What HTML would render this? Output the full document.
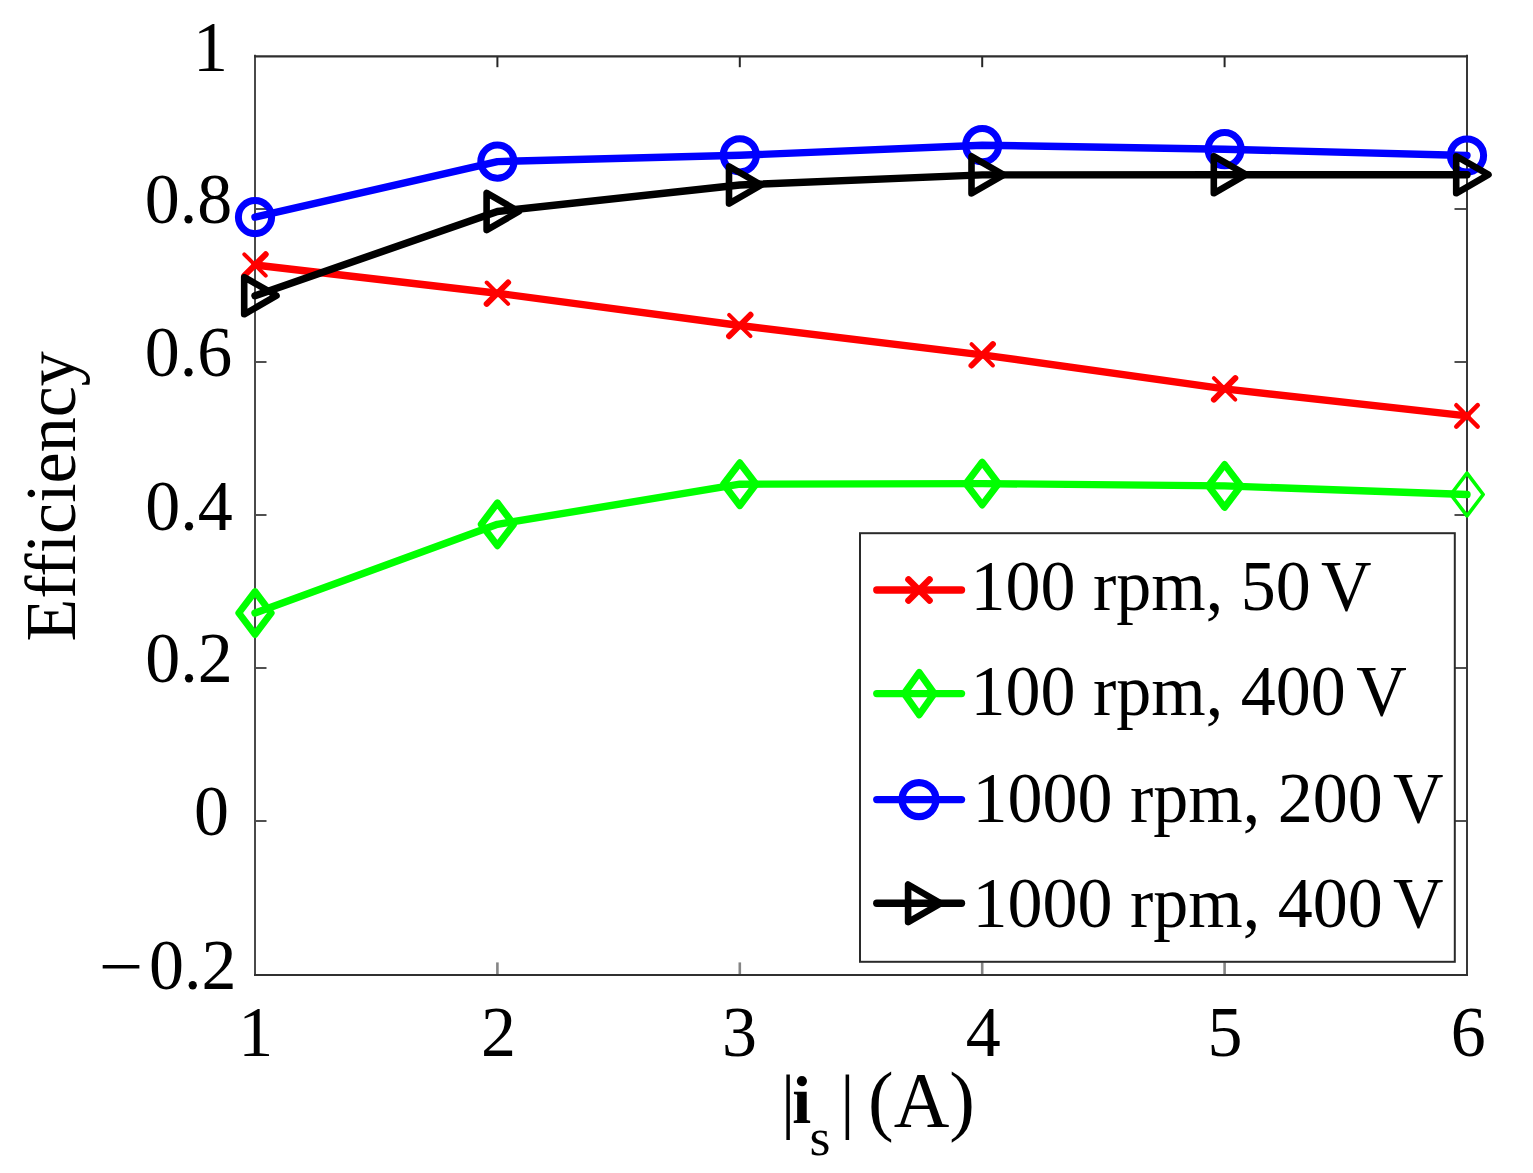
<!DOCTYPE html>
<html><head><meta charset="utf-8"><title>Efficiency vs |i_s|</title>
<style>
html,body{margin:0;padding:0;background:#fff;overflow:hidden;}
svg{display:block;}
text{font-family:"Liberation Serif","Times New Roman",serif;font-size:70px;fill:#000;}
</style></head><body>
<svg width="1533" height="1173" viewBox="0 0 1533 1173">
<rect width="1533" height="1173" fill="#fff"/>
<g stroke="#505050" stroke-width="1.8" fill="none"><path d="M255 821.0H266.5M1467 821.0H1454.5"/><path d="M255 668.0H266.5M1467 668.0H1454.5"/><path d="M255 515.0H266.5M1467 515.0H1454.5"/><path d="M255 362.0H266.5M1467 362.0H1454.5"/><path d="M255 209.0H266.5M1467 209.0H1454.5"/></g>
<g stroke="#858585" stroke-width="2.6" fill="none"><path d="M497.4 975V962.4"/><path d="M739.8 975V962.4"/><path d="M982.2 975V962.4"/><path d="M1224.6 975V962.4"/></g>
<g stroke="#262626" stroke-width="2" fill="none"><path d="M497.4 56V67.2"/><path d="M739.8 56V67.2"/><path d="M982.2 56V67.2"/><path d="M1224.6 56V67.2"/></g>
<path d="M255 54.8V976" stroke="#4a4a4a" stroke-width="2" fill="none"/><path d="M1467 54.8V976" stroke="#383838" stroke-width="2" fill="none"/><path d="M254 56.45H1468" stroke="#2e2e2e" stroke-width="2.3" fill="none"/><path d="M254 975H1468" stroke="#303030" stroke-width="2" fill="none"/>
<polyline points="255.0,265.0 497.4,293.2 739.8,325.5 982.2,354.8 1224.6,388.9 1467.0,415.9" fill="none" stroke="#f00" stroke-width="7.4" stroke-linecap="round" stroke-linejoin="round"/>
<path d="M244.3 275.7L265.7 254.3" stroke="#f00" stroke-width="6.0" stroke-linecap="round"/><path d="M244.3 254.3L265.7 275.7" stroke="#f00" stroke-width="4.0" stroke-linecap="round"/>
<path d="M486.7 303.9L508.1 282.5" stroke="#f00" stroke-width="6.0" stroke-linecap="round"/><path d="M486.7 282.5L508.1 303.9" stroke="#f00" stroke-width="4.0" stroke-linecap="round"/>
<path d="M729.1 336.2L750.5 314.8" stroke="#f00" stroke-width="6.0" stroke-linecap="round"/><path d="M729.1 314.8L750.5 336.2" stroke="#f00" stroke-width="4.0" stroke-linecap="round"/>
<path d="M971.5 365.5L992.9 344.1" stroke="#f00" stroke-width="6.0" stroke-linecap="round"/><path d="M971.5 344.1L992.9 365.5" stroke="#f00" stroke-width="4.0" stroke-linecap="round"/>
<path d="M1213.9 399.6L1235.3 378.2" stroke="#f00" stroke-width="6.0" stroke-linecap="round"/><path d="M1213.9 378.2L1235.3 399.6" stroke="#f00" stroke-width="4.0" stroke-linecap="round"/>
<path d="M1456.3 426.6L1477.7 405.2" stroke="#f00" stroke-width="4.6" stroke-linecap="round"/><path d="M1456.3 405.2L1477.7 426.6" stroke="#f00" stroke-width="4.4" stroke-linecap="round"/>
<polyline points="255.0,613.0 497.4,524.3 739.8,484.2 982.2,483.6 1224.6,485.9 1467.0,494.5" fill="none" stroke="#0f0" stroke-width="7.4" stroke-linecap="round" stroke-linejoin="round"/>
<path d="M255.0 591.6L271.2 613.0L255.0 634.4L238.8 613.0Z" fill="none" stroke="#0f0" stroke-width="7.0" stroke-linejoin="round"/>
<path d="M497.4 502.9L513.6 524.3L497.4 545.7L481.2 524.3Z" fill="none" stroke="#0f0" stroke-width="7.0" stroke-linejoin="round"/>
<path d="M739.8 462.8L756.0 484.2L739.8 505.6L723.6 484.2Z" fill="none" stroke="#0f0" stroke-width="7.0" stroke-linejoin="round"/>
<path d="M982.2 462.2L998.4 483.6L982.2 505.0L966.0 483.6Z" fill="none" stroke="#0f0" stroke-width="7.0" stroke-linejoin="round"/>
<path d="M1224.6 464.5L1240.8 485.9L1224.6 507.3L1208.4 485.9Z" fill="none" stroke="#0f0" stroke-width="7.0" stroke-linejoin="round"/>
<path d="M1467.0 473.1L1483.2 494.5L1467.0 515.9L1450.8 494.5Z" fill="none" stroke="#0f0" stroke-width="3.6" stroke-linejoin="round"/>
<polyline points="255.0,217.1 497.4,161.6 739.8,155.3 982.2,145.2 1224.6,149.2 1467.0,155.5" fill="none" stroke="#00f" stroke-width="7.4" stroke-linecap="round" stroke-linejoin="round"/>
<circle cx="255.0" cy="217.1" r="16.6" fill="none" stroke="#00f" stroke-width="7.0"/>
<circle cx="497.4" cy="161.6" r="16.6" fill="none" stroke="#00f" stroke-width="7.0"/>
<circle cx="739.8" cy="155.3" r="16.6" fill="none" stroke="#00f" stroke-width="7.0"/>
<circle cx="982.2" cy="145.2" r="16.6" fill="none" stroke="#00f" stroke-width="7.0"/>
<circle cx="1224.6" cy="149.2" r="16.6" fill="none" stroke="#00f" stroke-width="7.0"/>
<circle cx="1467.0" cy="155.5" r="16.6" fill="none" stroke="#00f" stroke-width="7.0"/>
<polyline points="255.0,295.7 497.4,211.5 739.8,185.0 982.2,174.9 1224.6,174.7 1467.0,174.7" fill="none" stroke="#000" stroke-width="7.4" stroke-linecap="round" stroke-linejoin="round"/>
<path d="M276.5 295.7L244.2 277.1L244.2 314.3Z" fill="none" stroke="#000" stroke-width="6.6" stroke-linejoin="round"/>
<path d="M518.9 211.5L486.6 192.9L486.6 230.1Z" fill="none" stroke="#000" stroke-width="6.6" stroke-linejoin="round"/>
<path d="M761.3 185.0L729.0 166.4L729.0 203.6Z" fill="none" stroke="#000" stroke-width="6.6" stroke-linejoin="round"/>
<path d="M1003.7 174.9L971.5 156.3L971.5 193.5Z" fill="none" stroke="#000" stroke-width="6.6" stroke-linejoin="round"/>
<path d="M1246.1 174.7L1213.8 156.1L1213.8 193.3Z" fill="none" stroke="#000" stroke-width="6.6" stroke-linejoin="round"/>
<path d="M1488.5 174.7L1456.2 156.1L1456.2 193.3Z" fill="none" stroke="#000" stroke-width="6.6" stroke-linejoin="round"/>
<text transform="translate(192.93,71.00) scale(1,1.025)">1</text>
<text transform="translate(144.73,223.00) scale(1,1.025)">0.8</text>
<text transform="translate(144.73,375.70) scale(1,1.025)">0.6</text>
<text transform="translate(145.13,529.70) scale(1,1.025)">0.4</text>
<text transform="translate(145.13,682.40) scale(1,1.025)">0.2</text>
<text transform="translate(194.00,834.60) scale(1,1.025)">0</text>
<text transform="translate(148.93,989.00) scale(1,1.025)">0.2</text>
<text transform="translate(98.87,990.24) scale(1.127,1)">−</text>
<text transform="translate(238.23,1056.40) scale(1,1.025)">1</text>
<text transform="translate(480.99,1056.40) scale(1,1.025)">2</text>
<text transform="translate(721.89,1056.40) scale(1,1.025)">3</text>
<text transform="translate(965.66,1056.40) scale(1,1.025)">4</text>
<text transform="translate(1207.53,1056.40) scale(1,1.025)">5</text>
<text transform="translate(1450.64,1056.40) scale(1,1.025)">6</text>
<rect x="860" y="533.2" width="594.8" height="428.6" fill="#fff" stroke="#2a2a2a" stroke-width="2"/>
<path d="M876.8 590.0H961.5" stroke="#f00" stroke-width="7.4" stroke-linecap="round"/>
<path d="M908.5 600.5L929.5 579.5" stroke="#f00" stroke-width="6.6" stroke-linecap="round"/><path d="M908.5 579.5L929.5 600.5" stroke="#f00" stroke-width="6.6" stroke-linecap="round"/>
<text transform="translate(970.55,609.9) scale(1,1.025)"><tspan x="0">100 rpm, 50</tspan><tspan x="350.57">V</tspan></text>
<path d="M876.8 693.6H961.5" stroke="#0f0" stroke-width="7.4" stroke-linecap="round"/>
<path d="M919.2 672.4L934.2 693.6L919.2 714.8L904.2 693.6Z" fill="none" stroke="#0f0" stroke-width="7.0" stroke-linejoin="round"/>
<text transform="translate(970.55,715.3) scale(1,1.025)"><tspan x="0">100 rpm, 400</tspan><tspan x="385.77">V</tspan></text>
<path d="M876.8 799.6H961.5" stroke="#00f" stroke-width="7.4" stroke-linecap="round"/>
<circle cx="919.0" cy="799.6" r="17.0" fill="none" stroke="#00f" stroke-width="7.1"/>
<text transform="translate(972.45,821.6) scale(1,1.025)"><tspan x="0">1000 rpm, 200</tspan><tspan x="420.67">V</tspan></text>
<path d="M876.8 903.3H961.5" stroke="#000" stroke-width="7.4" stroke-linecap="round"/>
<path d="M940.7 903.3L908.1 884.5L908.1 922.1Z" fill="none" stroke="#000" stroke-width="6.6" stroke-linejoin="round"/>
<text transform="translate(972.45,927.0) scale(1,1.025)"><tspan x="0">1000 rpm, 400</tspan><tspan x="420.67">V</tspan></text>
<text transform="translate(74.7,641.42) rotate(-90) scale(1,1.035)">Efficiency</text>
<text transform="translate(780.96,1124.50) scale(1,1.0)" style="font-size:71px">|</text>
<text transform="translate(792.31,1122.50) scale(1,0.985)" style="font-size:68px" font-weight="bold">i</text>
<text transform="translate(809.59,1155.00) scale(1,0.97)" style="font-size:54px">s</text>
<text transform="translate(840.16,1124.50) scale(1,1.0)" style="font-size:71px">|</text>
<text transform="translate(868.02,1125.80) scale(1,1.02)" style="font-size:77px">(A)</text>
</svg>
</body></html>
